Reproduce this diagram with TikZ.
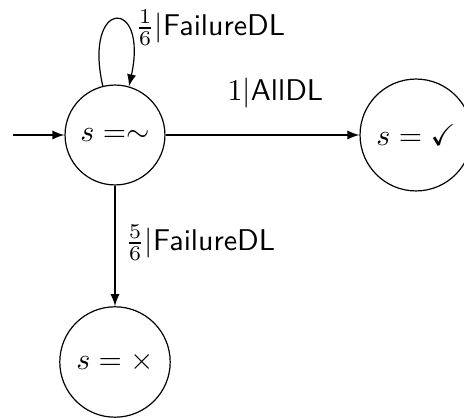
\documentclass[tikz,border=0pt]{standalone}
\usepackage{amssymb}
\usetikzlibrary{arrows}
\begin{document}
\begin{tikzpicture}[x=0.33333pt,y=-0.33333pt,
  state/.style={circle,draw,inner sep=0pt},
  lbl/.style={inner sep=0pt,anchor=west},
  edge/.style={-latex}]
\useasboundingbox (0,0) rectangle (464,418);
\node[state,minimum size=33.3pt] (q0) at (115,135) {$s =\sim$};
\node[state,minimum size=37.3pt] (q1) at (416,135) {$s = \checkmark$};
\node[state,minimum size=36.8pt] (q2) at (115,362) {$s = \times$};
\coordinate (start) at (13,135);
\draw[edge] (start) -- (q0);
\draw[edge] (q0.104.6) .. controls +(-20,-88) and +(20,-90) .. (q0.74);
\draw[edge] (q0) -- (q1);
\draw[edge] (q0) -- (q2);
\node[lbl] (l1) at (135,28) {$\frac{1}{6}|$\textsf{FailureDL}};
\node[lbl] (l2) at (227,93) {$1|$\textsf{AllDL}};
\node[lbl] (l3) at (125,243) {$\frac{5}{6}|$\textsf{FailureDL}};
\end{tikzpicture}
\end{document}
